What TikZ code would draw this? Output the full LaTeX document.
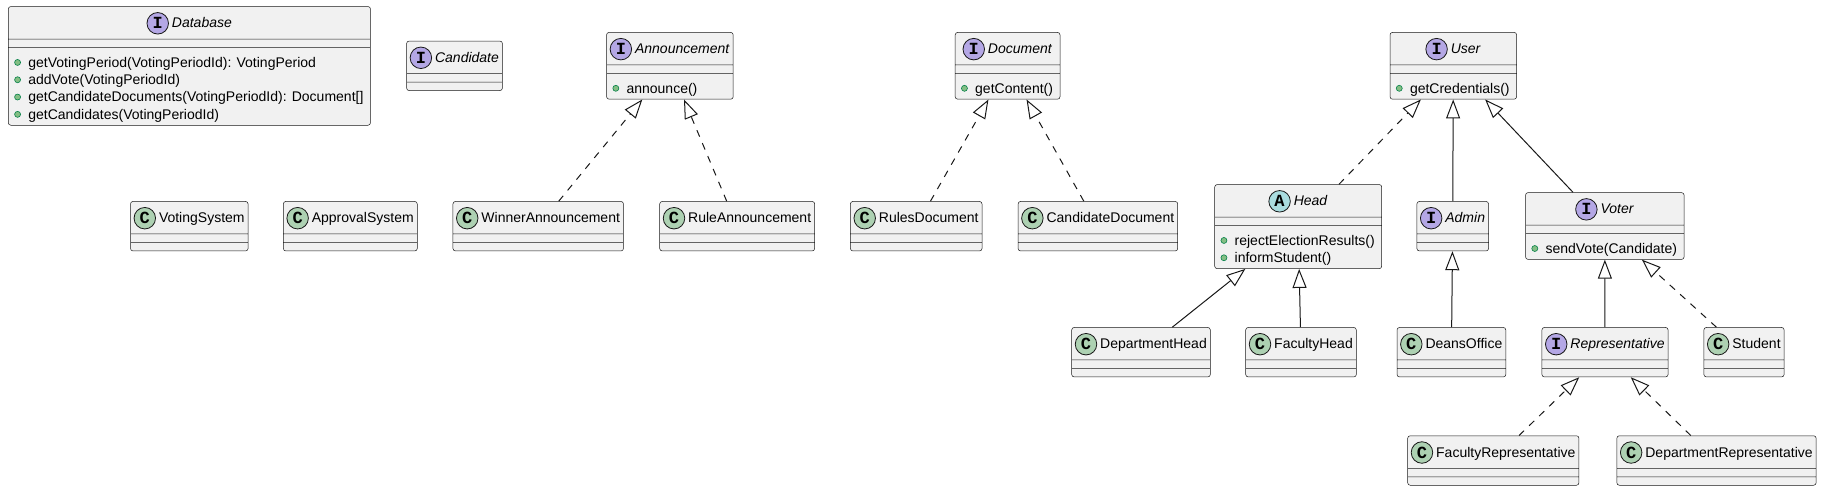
\documentclass[tikz,border=0pt]{standalone}
\usepackage{fontspec}
\setmainfont{Liberation Sans}
\newfontfamily\iconfont{Liberation Mono}
\usepackage{tikz}
\usetikzlibrary{shapes.multipart}
\usetikzlibrary{arrows.meta}
\tikzset{>={Triangle[open,length=19pt,width=14pt]}}

\definecolor{boxfill}{HTML}{F1F1F1}
\definecolor{linedark}{HTML}{181818}
\definecolor{ifacebg}{HTML}{B4A7E5}
\definecolor{classbg}{HTML}{ADD1B2}
\definecolor{abstrbg}{HTML}{A9DCDF}
\definecolor{methfill}{HTML}{84BE84}
\definecolor{methline}{HTML}{038048}

% one member line of a class box
\newcommand{\meth}[1]{\hbox{\rule[-1.9pt]{0pt}{17.3pt}\hspace{16.5pt}\smash{#1}\hspace{3.5pt}}}
% box, title, icon and member dots of a class
\newcommand{\umlbox}[6]{%
  \node[cls] (#1) at (#2) {\rule[-10.5pt]{0pt}{32pt}\hspace*{25pt}\phantom{#5}%
    \nodepart{two}\makebox[0.01pt]{\rule[-4pt]{0pt}{8pt}}%
    \nodepart{three}\vbox{\offinterlineskip\kern4pt\hbox to 0.01pt{}%
      \if\relax\detokenize{#6}\relax\else\foreach \m in {#6} {\meth{\m}}\fi\kern4pt}};
  \node[ttl, anchor=base] (#1-t) at ([xshift=12.5pt,yshift=-21.5pt]#1.north) {#5};
  \node[#3] (#1-i) at ([xshift=-14pt,yshift=4.5pt]#1-t.base west) {#4};
  \if\relax\detokenize{#6}\relax\else
    \foreach \m [count=\k] in {#6}
      \node[dot] (#1-d\k) at ([xshift=9.5pt,yshift={-14.9pt-(\k-1)*17.3pt}]#1.two split west) {};
  \fi
}

\begin{document}
\begin{tikzpicture}[x=1pt,y=-1pt]
      \tikzstyle{cls} = [draw=linedark, fill=boxfill, line width=0.5pt, rounded corners=2.5pt,
        rectangle split, rectangle split parts=3, rectangle split part align={center,left,left},
        rectangle split empty part height=0pt, rectangle split empty part depth=0pt,
        inner xsep=3.5pt, inner ysep=0pt, font=\fontsize{14}{16}\selectfont]
      \tikzstyle{ttl} = [inner sep=0pt, font=\fontsize{14}{16}\selectfont]
      \tikzstyle{iconI} = [circle, draw=linedark, line width=0.8pt, fill=ifacebg, minimum size=21.5pt,
        inner sep=0pt, font=\iconfont\bfseries\fontsize{17}{17}\selectfont]
      \tikzstyle{iconC} = [iconI, fill=classbg]
      \tikzstyle{iconA} = [iconI, fill=abstrbg]
      \tikzstyle{dot} = [circle, draw=methline, line width=0.6pt, fill=methfill, minimum size=6pt, inner sep=0pt]
      \tikzstyle{ext} = [draw=linedark, line width=1pt, ->]
      \tikzstyle{impl} = [ext, dash pattern=on 7pt off 7pt]

      \useasboundingbox (0,0) rectangle (1823,490);

      % top row
      \umlbox{db}{189.4,65.9}{iconI}{I}{\textit{Database}}{getVotingPeriod(VotingPeriodId): VotingPeriod, addVote(VotingPeriodId), getCandidateDocuments(VotingPeriodId): Document[], getCandidates(VotingPeriodId)}
      \umlbox{cand}{454.5,65.8}{iconI}{I}{\textit{Candidate}}{}
      \umlbox{ann}{669.9,65.8}{iconI}{I}{\textit{Announcement}}{announce()}
      \umlbox{doc}{1007.6,65.8}{iconI}{I}{\textit{Document}}{getContent()}
      \umlbox{user}{1453.3,65.8}{iconI}{I}{\textit{User}}{getCredentials()}

      \umlbox{vsys}{189.3,226.2}{iconC}{C}{VotingSystem}{}
      \umlbox{asys}{350.3,226.2}{iconC}{C}{ApprovalSystem}{}
      \umlbox{winann}{538.2,226.2}{iconC}{C}{WinnerAnnouncement}{}
      \umlbox{ruleann}{737.2,226.2}{iconC}{C}{RuleAnnouncement}{}
      \umlbox{rulesdoc}{916.2,226.2}{iconC}{C}{RulesDocument}{}
      \umlbox{canddoc}{1097.9,226.2}{iconC}{C}{CandidateDocument}{}
      \umlbox{head}{1298.2,226.6}{iconA}{A}{\textit{Head}}{rejectElectionResults(), informStudent()}
      \umlbox{admin}{1452.7,226.2}{iconI}{I}{\textit{Admin}}{}
      \umlbox{voter}{1604.8,226}{iconI}{I}{\textit{Voter}}{sendVote(Candidate)}

      \umlbox{dhead}{1141,352.2}{iconC}{C}{DepartmentHead}{}
      \umlbox{fhead}{1301,352.2}{iconC}{C}{FacultyHead}{}
      \umlbox{deans}{1451.4,352.2}{iconC}{C}{DeansOffice}{}
      \umlbox{rep}{1605,352.2}{iconI}{I}{\textit{Representative}}{}
      \umlbox{student}{1744,352.2}{iconC}{C}{Student}{}

      \umlbox{frep}{1493.3,460.5}{iconC}{C}{FacultyRepresentative}{}
      \umlbox{drep}{1716.5,460.5}{iconC}{C}{DepartmentRepresentative}{}

      \draw[impl] (winann) to (ann);
      \draw[impl] (ruleann) to (ann);
      \draw[impl] (rulesdoc) to (doc);
      \draw[impl] (canddoc) to (doc);
      \draw[impl] (head) to (user);
      \draw[ext] (admin) to (user);
      \draw[ext] (voter) to (user);
      \draw[ext] (dhead) to (head);
      \draw[ext] (fhead) to (head);
      \draw[ext] (deans) to (admin);
      \draw[ext] (rep) to (voter);
      \draw[impl] (student) to (voter);
      \draw[impl] (frep) to (rep);
      \draw[impl] (drep) to (rep);
\end{tikzpicture}
\end{document}
